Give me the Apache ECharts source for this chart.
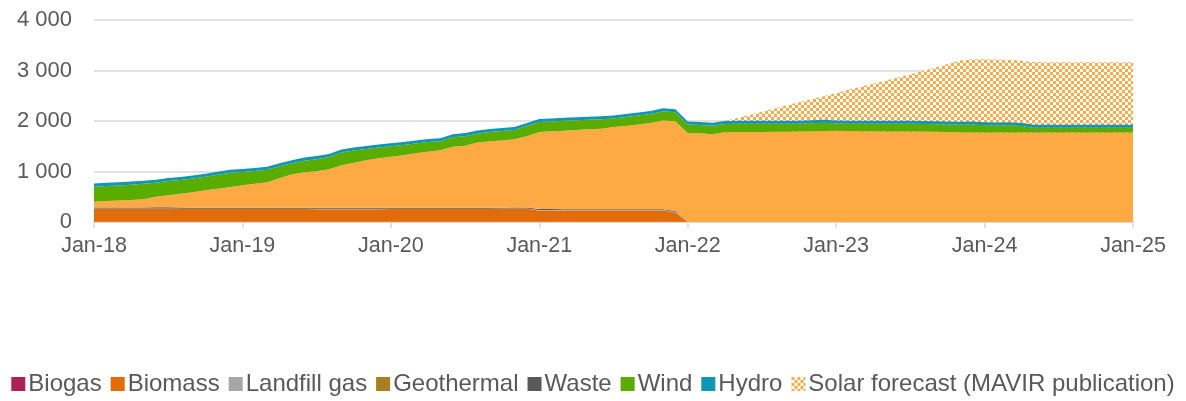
<!DOCTYPE html>
<html>
<head>
<meta charset="utf-8">
<script src="https://cdn.jsdelivr.net/npm/echarts@6/dist/echarts.min.js"></script>
<style>
  html, body { margin: 0; padding: 0; background: #fff; }
  #chart { width: 1186px; height: 401px; }
</style>
</head>
<body>
<div id="chart"></div>
<script>
// months Jan-18 .. Jan-25
var monthNames = ['Jan', 'Feb', 'Mar', 'Apr', 'May', 'Jun', 'Jul', 'Aug', 'Sep', 'Oct', 'Nov', 'Dec']
var months = []
for (var y = 18; y <= 25; y++) {
  for (var m = 0; m < 12; m++) {
    if (y === 25 && m > 0) break
    months.push(monthNames[m] + '-' + y)
  }
}

// installed capacity, MW
var biogas = [
  5, 5, 5, 5, 5, 5, 5, 5, 5, 5, 5, 5,
  5, 5, 5, 5, 5, 5, 5, 5, 5, 5, 5, 5,
  5, 5, 5, 5, 5, 5, 5, 5, 5, 5, 5, 5,
  5, 5, 5, 5, 5, 5, 5, 5, 5, 5, 5, 5,
  0, 0, 0, 0, 0, 0, 0, 0, 0, 0, 0, 0,
  0, 0, 0, 0, 0, 0, 0, 0, 0, 0, 0, 0,
  0, 0, 0, 0, 0, 0, 0, 0, 0, 0, 0, 0,
  0
]
var biomass = [
  255, 255, 255, 255, 255, 255, 252, 250, 250, 250, 250, 250,
  250, 250, 250, 250, 250, 250, 248, 248, 248, 248, 248, 248,
  250, 250, 250, 250, 250, 250, 250, 250, 250, 252, 255, 255,
  225, 225, 222, 222, 222, 222, 222, 222, 222, 222, 222, 185,
  0, 0, 0, 0, 0, 0, 0, 0, 0, 0, 0, 0,
  0, 0, 0, 0, 0, 0, 0, 0, 0, 0, 0, 0,
  0, 0, 0, 0, 0, 0, 0, 0, 0, 0, 0, 0,
  0
]
var landfill = [
  6, 6, 6, 6, 6, 6, 6, 6, 6, 6, 6, 6,
  6, 6, 6, 6, 6, 6, 6, 6, 6, 6, 6, 6,
  6, 6, 6, 6, 6, 6, 6, 6, 6, 6, 6, 6,
  6, 6, 6, 6, 6, 6, 6, 6, 6, 6, 6, 6,
  0, 0, 0, 0, 0, 0, 0, 0, 0, 0, 0, 0,
  0, 0, 0, 0, 0, 0, 0, 0, 0, 0, 0, 0,
  0, 0, 0, 0, 0, 0, 0, 0, 0, 0, 0, 0,
  0
]
var geothermal = [
  3, 3, 3, 3, 3, 3, 3, 3, 3, 3, 3, 3,
  3, 3, 3, 3, 3, 3, 3, 3, 3, 3, 3, 3,
  3, 3, 3, 3, 3, 3, 3, 3, 3, 3, 3, 3,
  3, 3, 3, 3, 3, 3, 3, 3, 3, 3, 3, 3,
  0, 0, 0, 0, 0, 0, 0, 0, 0, 0, 0, 0,
  0, 0, 0, 0, 0, 0, 0, 0, 0, 0, 0, 0,
  0, 0, 0, 0, 0, 0, 0, 0, 0, 0, 0, 0,
  0
]
var waste = [
  18, 18, 18, 18, 18, 24, 24, 22, 20, 18, 18, 18,
  18, 18, 18, 18, 18, 18, 18, 18, 18, 18, 18, 18,
  18, 18, 18, 18, 18, 18, 18, 18, 18, 18, 18, 18,
  18, 18, 18, 18, 18, 18, 18, 18, 18, 18, 18, 18,
  0, 0, 0, 0, 0, 0, 0, 0, 0, 0, 0, 0,
  0, 0, 0, 0, 0, 0, 0, 0, 0, 0, 0, 0,
  0, 0, 0, 0, 0, 0, 0, 0, 0, 0, 0, 0,
  0
]
var solar = [
  116, 128, 138, 148, 163, 207, 240, 272, 307, 348, 378, 413,
  448, 473, 503, 583, 663, 703, 725, 765, 845, 895, 945, 980,
  1008, 1038, 1078, 1108, 1138, 1208, 1228, 1293, 1318, 1331, 1353, 1413,
  1523, 1538, 1555, 1570, 1585, 1595, 1625, 1645, 1675, 1705, 1755, 1776,
  1760, 1755, 1740, 1775, 1780, 1782, 1784, 1786, 1788, 1790, 1795, 1802,
  1805, 1800, 1798, 1796, 1794, 1793, 1792, 1790, 1785, 1780, 1776, 1772,
  1772, 1772, 1772, 1772, 1772, 1772, 1772, 1772, 1772, 1772, 1772, 1772,
  1772
]
var wind = [
  297, 300, 300, 305, 305, 278, 280, 275, 270, 265, 275, 280,
  260, 255, 250, 240, 220, 230, 240, 240, 250, 240, 220, 215,
  210, 205, 192, 192, 180, 190, 190, 175, 180, 185, 180, 200,
  200, 195, 195, 190, 185, 185, 170, 180, 180, 180, 185, 180,
  170, 165, 165, 165, 165, 163, 161, 159, 157, 155, 160, 163,
  145, 145, 147, 149, 151, 152, 152, 150, 150, 150, 150, 158,
  143, 138, 143, 128, 95, 95, 95, 95, 95, 95, 95, 95,
  95
]
var hydro = [
  60, 60, 60, 60, 60, 60, 60, 60, 60, 60, 60, 60,
  60, 60, 60, 60, 60, 60, 60, 60, 60, 60, 60, 60,
  60, 60, 60, 60, 60, 60, 60, 60, 60, 60, 60, 60,
  60, 60, 60, 60, 60, 60, 60, 60, 60, 60, 60, 60,
  60, 60, 60, 60, 60, 60, 60, 60, 60, 60, 60, 60,
  60, 60, 60, 60, 60, 60, 60, 60, 60, 60, 60, 60,
  60, 60, 60, 60, 60, 60, 60, 60, 60, 60, 60, 60,
  60
]
var solarForecast = [
  null, null, null, null, null, null, null, null, null, null, null, null,
  null, null, null, null, null, null, null, null, null, null, null, null,
  null, null, null, null, null, null, null, null, null, null, null, null,
  null, null, null, null, null, null, null, null, null, null, null, null,
  null, null, null, 2000, 2060, 2120, 2185, 2245, 2310, 2370, 2430, 2490,
  2555, 2620, 2680, 2740, 2800, 2860, 2925, 2990, 3060, 3130, 3200, 3225,
  3225, 3220, 3215, 3195, 3170, 3165, 3165, 3165, 3165, 3165, 3165, 3165,
  3165
]

var yTicks = [0, 1000, 2000, 3000, 4000]

var colors = {
  biogas: '#ae2159',
  biomass: '#e36c0a',
  landfill: '#a6a6a6',
  geothermal: '#a67f1e',
  waste: '#595959',
  solar: '#fea943',
  wind: '#58ad00',
  hydro: '#1196b5'
}

// checkerboard used for the forecast area
function checker() {
  var c = document.createElement('canvas')
  c.width = 6
  c.height = 6
  var ctx = c.getContext('2d')
  ctx.fillStyle = '#ffffff'
  ctx.fillRect(0, 0, 6, 6)
  ctx.fillStyle = '#fea943'
  ctx.fillRect(0, 0, 3, 3)
  ctx.fillRect(3, 3, 3, 3)
  return c
}
var pattern = { image: checker(), repeat: 'repeat' }

function stacked(name, data, color) {
  return {
    name: name,
    type: 'line',
    stack: 'total',
    data: data,
    showSymbol: false,
    symbol: 'none',
    lineStyle: { width: 0, color: color },
    itemStyle: { color: color },
    areaStyle: { color: color, opacity: 1 }
  }
}

var chart = echarts.init(document.getElementById('chart'))
var font = 'Liberation Sans, Arial, sans-serif'

var option = {
  animation: false,
  textStyle: { fontFamily: font },
  grid: { left: 94, right: 53, top: 20, bottom: 179 },
  legend: {
    bottom: 0,
    left: 'center',
    icon: 'rect',
    itemWidth: 14,
    itemHeight: 14,
    itemGap: 9,
    textStyle: { fontSize: 24, color: '#595959', fontFamily: font, padding: [0, 0, 0, -2] },
    data: [
      'Biogas', 'Biomass', 'Landfill gas', 'Geothermal', 'Waste', 'Wind', 'Hydro',
      { name: 'Solar forecast (MAVIR publication)', itemStyle: { color: pattern } }
    ]
  },
  xAxis: {
    type: 'category',
    data: months,
    boundaryGap: false,
    axisLine: { lineStyle: { color: '#d9d9d9', width: 1.5 } },
    axisTick: { interval: 11, length: 6, lineStyle: { color: '#d9d9d9', width: 1.5 } },
    axisLabel: { interval: 11, fontSize: 21.5, color: '#595959', margin: 13, fontFamily: font },
    splitLine: { show: false }
  },
  yAxis: {
    type: 'value',
    min: yTicks[0],
    max: yTicks[yTicks.length - 1],
    interval: 1000,
    axisLine: { show: false },
    axisTick: { show: false },
    axisLabel: {
      fontSize: 22,
      color: '#595959',
      margin: 22,
      fontFamily: font,
      formatter: function(v) {
        return String(v).replace(/\B(?=(\d{3})+(?!\d))/g, ' ')
      }
    },
    splitLine: { lineStyle: { color: '#d9d9d9', width: 1.5 } }
  },
  series: [
    {
      name: 'Solar forecast (MAVIR publication)',
      type: 'line',
      data: solarForecast,
      showSymbol: false,
      symbol: 'none',
      lineStyle: { width: 0 },
      itemStyle: { color: pattern },
      areaStyle: { color: pattern, opacity: 1 }
    },
    stacked('Biogas', biogas, colors.biogas),
    stacked('Biomass', biomass, colors.biomass),
    stacked('Landfill gas', landfill, colors.landfill),
    stacked('Geothermal', geothermal, colors.geothermal),
    stacked('Waste', waste, colors.waste),
    stacked('Solar', solar, colors.solar),
    stacked('Wind', wind, colors.wind),
    stacked('Hydro', hydro, colors.hydro)
  ]
}

chart.setOption(option)
</script>
</body>
</html>
